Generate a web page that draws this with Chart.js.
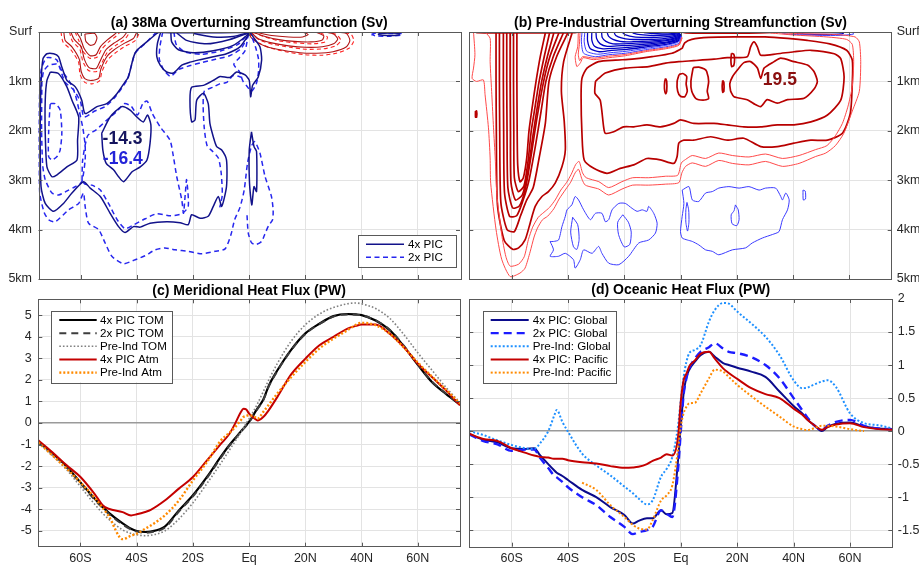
<!DOCTYPE html>
<html><head><meta charset="utf-8">
<script src="https://cdn.jsdelivr.net/npm/chart.js@4.4.1/dist/chart.umd.min.js"></script>
<style>
html,body{margin:0;padding:0;background:#fff;}
#wrap{position:relative;width:919px;height:565px;overflow:hidden;background:#fff;}
canvas{position:absolute;}
</style></head><body>
<div id="wrap">
<canvas id="pa" width="462" height="300" style="left:0;top:0"></canvas>
<canvas id="pb" width="457" height="300" style="left:462px;top:0"></canvas>
<canvas id="pc" width="462" height="282" style="left:0;top:283px"></canvas>
<canvas id="pd" width="457" height="282" style="left:462px;top:283px"></canvas>
</div>
<script>
// ---------- axis ticks ----------
const latTicks = [-60, -40, -20, 0, 20, 40, 60];
const latTickLabels = ['60S', '40S', '20S', 'Eq', '20N', '40N', '60N'];
const depthTicks = [0, 1, 2, 3, 4, 5];
const depthTickLabels = ['Surf', '1km', '2km', '3km', '4km', '5km'];
const fluxTicksC = [-5, -4, -3, -2, -1, 0, 1, 2, 3, 4, 5];
const fluxTicksD = [-1.5, -1, -0.5, 0, 0.5, 1, 1.5, 2];
const fluxTickLabelsD = ['-1.5', '-1', '-0.5', '0', '0.5', '1', '1.5', '2'];

// ---------- (c) meridional heat flux, PW ----------
const latC = [-75,-70,-65,-60,-55,-52,-50,-45,-42,-40,-37,-35,-30,-25,-20,-15,-10,-7,-5,-3,-2,-1,0,1,2,3,5,7,10,15,20,25,30,35,38,40,45,50,55,60,65,70,75];
const tom4x = [-0.88,-1.4,-2.0,-2.75,-3.5,-3.9,-4.15,-4.65,-4.9,-5.0,-5.05,-5.03,-4.8,-4.05,-3.35,-2.5,-1.55,-1.02,-0.71,-0.4,-0.25,-0.1,0.06,0.25,0.48,0.68,1.08,1.73,2.43,3.4,4.15,4.6,4.95,5.05,5.03,5.0,4.75,4.3,3.55,2.7,1.9,1.35,0.85];
const tom2x = [-0.9,-1.42,-2.05,-2.8,-3.55,-3.95,-4.2,-4.7,-4.93,-5.03,-5.08,-5.06,-4.85,-4.1,-3.4,-2.55,-1.6,-1.05,-0.74,-0.42,-0.27,-0.12,0.05,0.24,0.46,0.66,1.05,1.7,2.4,3.38,4.13,4.58,4.93,5.03,5.02,4.99,4.75,4.32,3.58,2.72,1.92,1.37,0.86];
const tomPI = [-0.9,-1.5,-2.15,-2.95,-3.75,-4.2,-4.45,-4.95,-5.12,-5.18,-5.22,-5.2,-5.0,-4.45,-3.7,-2.8,-1.85,-1.25,-0.85,-0.45,-0.25,0.0,0.2,0.42,0.65,0.9,1.45,2.0,2.75,3.8,4.55,5.05,5.35,5.52,5.56,5.52,5.3,4.85,4.1,3.25,2.45,1.65,0.95];
const atm4x = [-0.8,-1.35,-1.95,-2.5,-3.28,-3.82,-3.97,-4.13,-4.28,-4.23,-4.12,-4.02,-3.59,-3.04,-2.5,-1.73,-0.96,-0.5,-0.03,0.5,0.66,0.62,0.43,0.3,0.2,0.12,0.28,0.6,1.2,2.26,2.98,3.6,3.99,4.37,4.5,4.56,4.56,4.14,3.52,2.75,2.13,1.51,0.82];
const atmPI = [-0.9,-1.5,-2.1,-2.75,-3.45,-3.95,-4.3,-5.38,-5.22,-5.13,-4.9,-4.75,-4.28,-3.59,-2.66,-1.81,-0.8,-0.45,-0.19,0.12,0.28,0.33,0.36,0.33,0.28,0.2,0.51,0.85,1.36,2.13,2.83,3.45,3.91,4.3,4.55,4.64,4.53,4.14,3.5,2.8,2.15,1.55,0.9];

// ---------- (d) oceanic heat flux, PW ----------
const latD = [-75,-70,-65,-60,-55,-52,-50,-47,-45,-44,-42,-40,-35,-30,-25,-20,-17,-15,-12,-10,-7,-5,-3,-1,0,1,2,3,5,7,10,12,15,17,20,25,30,35,40,43,45,47,50,52,55,60,65,70,75];
const oGlob4x = [-0.045,-0.13,-0.17,-0.26,-0.27,-0.26,-0.36,-0.5,-0.59,-0.63,-0.68,-0.74,-0.89,-1.0,-1.15,-1.27,-1.4,-1.36,-1.32,-1.32,-1.2,-1.26,-1.24,-0.45,0.08,0.57,0.82,0.93,1.05,1.15,1.2,1.13,1.03,1.0,0.96,0.9,0.82,0.6,0.38,0.27,0.17,0.1,0.0,0.06,0.11,0.13,0.07,0.04,0.03];
const oGlob2x = [-0.05,-0.15,-0.2,-0.3,-0.28,-0.28,-0.4,-0.56,-0.67,-0.7,-0.77,-0.85,-1.0,-1.12,-1.3,-1.45,-1.56,-1.53,-1.5,-1.45,-1.2,-1.25,-1.3,-0.6,0.0,0.55,0.8,0.95,1.1,1.2,1.27,1.33,1.25,1.2,1.18,1.12,1.0,0.8,0.5,0.32,0.2,0.1,0.02,0.08,0.14,0.17,0.08,0.04,0.03];
const oGlobPI = [0.0,-0.06,-0.14,-0.21,-0.26,-0.27,-0.19,0.0,0.22,0.32,0.14,-0.01,-0.34,-0.52,-0.67,-0.84,-0.94,-1.02,-1.11,-1.05,-0.69,-0.57,-0.39,0.07,0.47,0.82,1.05,1.18,1.23,1.3,1.66,1.83,1.94,1.93,1.81,1.63,1.43,1.15,0.77,0.65,0.66,0.7,0.75,0.77,0.67,0.27,0.12,0.09,0.04];
const oPac4x = [-0.04,-0.12,-0.15,-0.26,-0.33,-0.37,-0.39,-0.4,-0.42,-0.42,-0.42,-0.44,-0.47,-0.49,-0.53,-0.555,-0.55,-0.54,-0.5,-0.45,-0.4,-0.35,-0.37,-0.1,0.45,0.77,0.87,0.98,1.07,1.17,1.2,1.1,0.95,0.88,0.79,0.65,0.56,0.5,0.34,0.25,0.17,0.1,0.02,0.06,0.1,0.12,0.06,0.03,0.02];
const oPacPI = [null,null,null,null,null,null,null,null,null,null,null,null,-0.78,-0.89,-1.12,-1.3,-1.42,-1.47,-1.49,-1.35,-1.05,-0.97,-0.82,-0.29,0.07,0.27,0.37,0.42,0.43,0.57,0.8,0.93,0.9,0.82,0.7,0.53,0.37,0.22,0.07,0.03,0.015,0.04,0.08,0.08,0.07,0.03,0.0,null,null];

// ---------- (a) 38Ma overturning streamfunction contours, [lat, depth km] ----------
const a4xContours = [
  [[-32,0],[-32.9,0.03],[-36.5,0.2],[-40,0.37],[-41.2,0.51],[-43,0.91],[-44.2,1.01],[-47.1,1.25],[-50.7,1.45],[-54.2,1.51],[-58.4,1.65],[-59.6,1.38],[-61.9,1.11],[-64.9,0.98],[-66.7,0.71],[-67.9,0.5],[-69.6,0.44],[-72,0.44],[-73.4,0.54],[-74.1,1.04],[-74.4,2.05],[-74.1,3.13],[-72.6,3.47],[-69.6,3.63],[-66.1,3.47],[-63.1,3.26],[-59,3.03],[-56.6,3.16],[-53,3.33],[-49.5,3.67],[-46.5,3.94],[-44.2,4.06],[-41.2,3.94],[-38.8,3.95],[-35.3,3.87],[-29.4,3.84],[-24.6,3.86],[-21.7,3.9],[-20.5,3.7],[-17.5,3.77],[-14.6,3.73],[-12.8,3.53],[-11,3.33],[-9.8,3.53],[-8.1,3.13],[-8.1,2.59],[-9.8,2.39],[-11.6,2.32],[-12.8,2.12],[-14,1.85],[-14.6,1.45],[-16.3,1.24],[-18.7,1.38],[-19.3,1.78],[-20.5,1.82],[-21.1,1.38],[-20.5,1.12],[-16.3,1.08],[-12.8,0.98],[-10.4,0.9],[-6.9,0.92],[-4.5,0.81],[-1.5,0.87],[0,0.98],[0.5,1.31],[1.2,1.08],[3.2,0.91],[4.4,0.57],[3.8,0.3],[1.4,0.1],[0.2,0]],
  [[-31.5,0],[-32.7,0.24],[-32.9,0.5],[-31.7,0.67],[-29.4,0.81],[-27,0.83],[-24,0.67],[-21.1,0.61],[-17.5,0.56],[-12.8,0.5],[-8.1,0.44],[-3.3,0.3],[-0.4,0.07],[0,0]],
  [[-27.9,0],[-27.6,0.2],[-25.2,0.36],[-19.9,0.42],[-12.8,0.38],[-5.7,0.27],[-0.9,0.07],[0,0]],
  [[-25.8,0.02],[-22.3,0.17],[-15.2,0.24],[-6.9,0.15],[-0.4,0.02]],
  [[-19.9,0.03],[-12.8,0.1],[-5.7,0.09],[-0.2,0.01]],
  [[-31,0.01],[-25,0.015],[-15,0.015],[-5,0.01],[0,0]],
  [[-70.8,0.81],[-67.9,0.84],[-64.9,1.11],[-63.1,1.38],[-60.7,1.72],[-61.1,2.19],[-61.3,2.59],[-64.9,2.73],[-68.4,2.89],[-70.2,2.93],[-72,2.73],[-72.6,2.05],[-72.6,1.38],[-72,0.98],[-70.8,0.81]],
  [[-52.5,2.05],[-49.5,1.72],[-45.4,1.51],[-42.4,1.58],[-40,1.72],[-37.7,1.82],[-36.2,1.68],[-35,1.88],[-35.3,2.25],[-36.4,2.59],[-38.8,2.73],[-41.7,2.83],[-44.7,3.03],[-46.5,2.93],[-48.3,2.79],[-50.9,2.66],[-52.1,2.39],[-52.5,2.05]],
  [[0.8,2.02],[1.7,2.32],[2.6,2.42],[2.6,3.23],[1.7,3.13],[0.9,3.5],[0.1,3.06],[0,2.39],[0.8,2.02]],
  [[46,0.03],[50,0.02],[53.5,0.03],[53,0.06],[49,0.07],[46,0.05],[46,0.03]]
];
const a2xContours = [
  [[-33,0],[-36.8,0.22],[-40.5,0.42],[-41.8,0.65],[-43.5,0.97],[-47.5,1.3],[-51,1.5],[-55,1.6],[-58.8,1.72],[-60,1.42],[-62.5,1.17],[-65.5,1.02],[-67.2,0.76],[-68.6,0.56],[-72,0.52],[-74,0.75],[-74.8,1.5],[-74.9,2.5],[-74.6,3.25],[-73,3.65],[-71.4,3.8],[-69,3.84],[-64.3,3.6],[-60.7,3.47],[-59,3.26],[-58.4,3.53],[-57.2,3.87],[-53.6,4.0],[-51.3,4.27],[-48.9,4.54],[-44.8,4.69],[-40.6,4.61],[-37.1,4.53],[-33.5,4.41],[-30,4.37],[-26.4,4.41],[-21.7,4.44],[-16.9,4.49],[-12.2,4.44],[-8.6,4.39],[-6.5,4.1],[-5.2,3.8],[-3.3,3.55],[-1.8,3.2],[-0.6,2.65],[0.85,2.3],[2,2.22],[3.8,2.45],[5.6,2.92],[7.9,3.33],[8.5,3.6],[8.3,3.8],[6.8,3.93],[5.5,4.1],[4.4,4.24],[2.5,4.3],[0.85,4.27],[-0.35,4.07],[-0.8,3.7]],
  [[-0.3,0.03],[-1.5,0.38],[-3.5,0.52],[-5.5,0.66],[-3.5,0.8],[-2.2,1.0],[-0.8,1.1],[0.8,1.2],[2.5,1.05],[3.3,0.8],[3.3,0.55],[2.2,0.3],[0.8,0.08]],
  [[-70.8,1.45],[-69,1.45],[-67.3,1.58],[-66.7,2.05],[-67.3,2.39],[-68.4,2.52],[-70.2,2.59],[-71.4,2.52],[-71.4,2.05],[-71,1.58],[-70.8,1.45]],
  [[-73.8,1.0],[-73.9,2.0],[-73.5,2.7],[-72.6,2.99],[-70.2,3.26],[-67.9,3.3],[-64.3,3.2],[-61.9,3.13],[-59.6,3.03],[-58.4,2.59],[-58.4,2.3],[-59.2,1.95],[-60.5,1.6],[-62,1.25],[-64,1.0],[-66.5,0.8],[-68.5,0.65],[-71.5,0.68],[-73.2,0.8],[-73.8,1.0]],
  [[-59.5,3.0],[-59.3,2.6],[-57.5,2.1],[-54.5,1.98],[-51,1.8],[-47,1.6],[-44.5,1.45],[-42,1.5],[-39.8,1.68],[-37.8,1.44],[-36.3,1.4],[-34.5,1.65],[-31.7,1.92],[-28.2,2.19],[-27,2.52],[-25.8,2.93],[-24,3.4],[-23.4,3.67],[-22.8,3.3],[-22.3,2.99],[-21.7,3.53],[-24,3.68],[-28,3.72],[-33,3.68],[-37,3.78],[-41,3.9],[-44.2,3.98],[-47,3.8],[-50,3.48],[-53,3.2],[-56,3.1],[-58.5,3.08],[-59.5,3.0]],
  [[-30.8,0],[-31.8,0.3],[-32,0.55],[-30.5,0.76],[-28,0.9],[-25.2,0.76],[-21,0.68],[-17,0.62],[-12,0.55],[-7,0.48],[-3,0.34],[-0.6,0.1],[0,0]],
  [[-26.8,0],[-26,0.25],[-23,0.4],[-17,0.45],[-10,0.38],[-4,0.25],[-0.6,0.05]],
  [[-2.5,0.92],[-5.7,0.88],[-8,1.02],[-10.5,1.05],[-13,1.12],[-16,1.2],[-16.4,1.5],[-16,1.95],[-15,2.3],[-13,2.42],[-11,2.55],[-10,2.85],[-9.6,3.3],[-10.5,3.55]],
  [[43.5,0.05],[45,0.02],[50,0.03],[54,0.03],[54.5,0.06],[50,0.085],[45,0.08],[43.5,0.05]]
];
const a4xWarm = [
  [[-66,0],[-65.5,0.17],[-63.1,0.3],[-60.5,0.55],[-59.8,0.8],[-58.4,0.95],[-56,0.98],[-53.6,0.94],[-52.8,0.75],[-50.7,0.5],[-48.3,0.37],[-44.8,0.24],[-41.2,0.13],[-40,0]],
  [[-63.5,0],[-62.3,0.15],[-59.8,0.3],[-58.7,0.55],[-57,0.72],[-54.5,0.74],[-53,0.58],[-51,0.36],[-48,0.22],[-45,0.11],[-43.5,0]],
  [[-61.5,0],[-60,0.14],[-58.8,0.33],[-56.6,0.48],[-54.5,0.46],[-53,0.3],[-50.5,0.16],[-48,0.05],[-47,0]],
  [[-58.5,0.04],[-58.2,0.18],[-56.6,0.27],[-55,0.24],[-54.2,0.12],[-55,0.03],[-58.5,0.04]],
  [[0.2,0],[0.5,0.1],[2.6,0.2],[6.2,0.3],[12,0.37],[18,0.42],[24,0.43],[29.8,0.4],[34.6,0.3],[35.8,0.17],[34.6,0.03],[30,0]],
  [[0.5,0],[3,0.13],[8,0.22],[14,0.28],[20,0.31],[26,0.3],[30,0.24],[31.5,0.14],[30,0.04],[27,0]],
  [[1,0],[5,0.08],[10,0.15],[16,0.19],[22,0.2],[26,0.16],[26.5,0.08],[24,0.01]],
  [[2,0],[8,0.07],[14,0.1],[19,0.1],[21,0.05],[19,0]]
];
const a2xWarm = [
  [[-67,0],[-66.3,0.2],[-63.5,0.36],[-60.8,0.6],[-60.2,0.86],[-58.5,1.02],[-56,1.05],[-53.3,0.99],[-52.4,0.8],[-50.3,0.56],[-47.8,0.43],[-44.2,0.29],[-40.5,0.17],[-39,0]],
  [[-64,0],[-63,0.18],[-60.3,0.35],[-59.2,0.6],[-57.2,0.78],[-54.3,0.8],[-52.5,0.63],[-50.5,0.41],[-47.5,0.27],[-44.3,0.15],[-42.5,0]],
  [[-62,0],[-60.6,0.18],[-59.3,0.38],[-56.8,0.53],[-54.2,0.51],[-52.5,0.35],[-50,0.2],[-47.3,0.08],[-46,0]],
  [[0.3,0],[1,0.12],[4,0.24],[8,0.33],[14,0.41],[20,0.46],[26,0.47],[31,0.43],[35.5,0.33],[37.2,0.18],[36.3,0.05],[33,0]],
  [[0.7,0],[3.5,0.16],[8.5,0.25],[14.5,0.31],[20.5,0.35],[26.5,0.34],[30.8,0.28],[32.6,0.17],[31,0.05],[28,0]],
  [[1.3,0],[5.5,0.1],[10.5,0.18],[16.5,0.22],[22.5,0.24],[27,0.2],[27.8,0.1],[25,0.01]]
];
const extremaA = [
  {lat: -45.1, depth: 2.17, text: '-14.3', color: '#14145e'},
  {lat: -45.0, depth: 2.58, text: '-16.4', color: '#2323d8'}
];

// ---------- (b) pre-industrial overturning streamfunction contours ----------
const piStrongPos = [
  [[-58.1,0],[-58.1,1.0],[-58,2.0],[-57.8,2.7],[-57,3.03],[-55.8,2.95],[-54.6,2.55],[-53.8,2.0],[-52.6,1.5],[-51.3,1.0],[-49.8,0.5],[-48,0.02]],
  [[-59.3,0],[-59.3,1.0],[-59.2,2.0],[-59,2.95],[-57.6,3.23],[-55.6,3.12],[-54.1,2.6],[-53,2.0],[-51.6,1.5],[-50.2,1.0],[-48.4,0.5],[-46.5,0.02]],
  [[-60.5,0],[-60.5,1.0],[-60.4,2.0],[-60.2,3.05],[-58.6,3.4],[-56.2,3.3],[-54.3,2.85],[-52.4,2.1],[-50.8,1.5],[-49.3,1.0],[-47.3,0.5],[-45,0.02]],
  [[-61.7,0],[-61.7,1.0],[-61.6,2.0],[-61.3,3.15],[-59.6,3.56],[-57.2,3.52],[-55,3.15],[-52.9,2.45],[-51,1.75],[-48.6,1.0],[-46.4,0.5],[-43.2,0.02]],
  [[-62.9,0],[-62.9,1.0],[-62.8,2.0],[-62.5,3.25],[-60.7,3.73],[-58.2,3.72],[-56,3.42],[-53.8,3.0],[-51.5,2.3],[-49.5,1.6],[-47.8,1.0],[-45.2,0.5],[-41.6,0.02]],
  [[-64.3,0],[-64.3,1.0],[-64.2,2.0],[-63.8,3.45],[-61.6,4.0],[-59,4.04],[-56.8,3.72],[-54.6,3.4],[-52.3,3.15],[-50.2,2.55],[-48,1.85],[-46.7,1.0],[-44,0.5],[-40,0.02]],
  [[-65.5,0],[-65.5,1.0],[-65.4,2.0],[-65,3.5],[-62.6,4.22],[-59.6,4.4],[-57.5,4.37],[-55.2,4.21],[-53.4,3.87],[-51.6,3.53],[-49.2,3.33],[-46.9,3.23],[-44.5,3.06],[-42.1,2.73],[-40.9,2.39],[-41.3,1.8],[-42.3,1.2],[-41.5,0.6],[-38.5,0.02]],
  [[0.6,0.33],[-3,0.43],[-10.1,0.5],[-17.2,0.55],[-23.1,0.57],[-29.1,0.6],[-33.2,0.73],[-35,0.94],[-35.3,1.3],[-35,2.05],[-34.2,2.59],[-30.8,2.76],[-26.1,2.86],[-21.4,2.76],[-16.6,2.69],[-11.9,2.56],[-7.1,2.59],[-2.4,2.66],[-1.2,2.52],[-0.6,2.25],[1.2,2.19],[4.7,2.19],[10.7,2.12],[16.6,2.19],[22.5,2.15],[28.5,2.32],[34.4,2.32],[40.3,2.25],[46.3,2.19],[52.2,2.19],[57.5,2.05],[60.3,1.65],[61,1.04],[61,0.57],[59,0.37],[53,0.24],[45,0.17],[38,0.13],[30,0.1],[20,0.1],[10,0.11],[4,0.15],[1.5,0.22],[0.6,0.33]],
  [[-30.2,1.0],[-30.4,1.24],[-28.5,1.38],[-27.3,1.92],[-26.7,2.05],[-23.7,2.02],[-20.2,1.92],[-16.6,1.92],[-11.9,1.88],[-7.1,1.92],[-2.4,1.85],[0,1.78],[4.7,1.85],[11.9,1.85],[16.6,1.88],[22.5,1.92],[28.5,1.92],[34.4,1.88],[40.3,1.88],[46.3,1.82],[52.2,1.68],[56.9,1.38],[58.1,0.91],[56.9,0.54],[54.6,0.44],[46.3,0.37],[40.3,0.4],[34.4,0.44],[28.5,0.47],[27.3,0.3],[26.1,0.2],[24.9,0.3],[23.7,0.5],[16.6,0.52],[11.9,0.55],[4.7,0.58],[-0.6,0.6],[-5.3,0.63],[-11.3,0.7],[-19.6,0.73],[-26.7,0.83],[-29.1,0.94],[-30.2,1.0]],
  [[17.8,1.2],[19,1.31],[23.7,1.37],[26,1.45],[28.5,1.51],[30.8,1.37],[34.4,1.44],[38,1.37],[43.9,1.34],[47.5,1.15],[48.6,1.0],[47.4,0.8],[45.1,0.67],[40.3,0.6],[35.6,0.53],[33.2,0.6],[29.7,0.73],[28.5,0.94],[27.3,0.73],[24.9,0.6],[22.5,0.62],[20.5,0.75],[18.5,0.9],[17.5,1.05],[17.8,1.2]],
  [[-5.3,0.94],[-4.9,1.0],[-4.9,1.2],[-5.3,1.25],[-5.7,1.15],[-5.6,1.0],[-5.3,0.94]],
  [[-0.5,0.86],[0.8,0.84],[2.2,0.9],[2.0,1.05],[2.4,1.2],[1.5,1.31],[0,1.3],[-1.0,1.2],[-1.2,1.0],[-0.5,0.86]],
  [[4.5,0.72],[6.5,0.71],[8.5,0.75],[9.3,0.8],[10,1.0],[9.5,1.2],[10,1.35],[8,1.38],[5.5,1.35],[4,1.2],[3.7,1.0],[4.5,0.72]],
  [[15,0.98],[15.4,1.02],[15.4,1.2],[15,1.22],[14.8,1.1],[15,0.98]],
  [[18.1,0.43],[18.9,0.45],[19.2,0.55],[18.9,0.68],[18.2,0.7],[17.9,0.57],[18.1,0.43]],
  [[-73,0],[-72,0.015],[-65,0.02],[-55,0.02],[-45,0.02],[-38,0.015],[-36,0]],
  [[0,0],[2,0.02],[10,0.025],[20,0.025],[28,0.02],[33,0.01],[35,0]],
  [[-72.8,1.6],[-72.4,1.6],[-72.4,1.72],[-72.8,1.72],[-72.8,1.6]]
];
const piWeakPos = [
  [[-73.5,0],[-73,0.46],[-73.5,0.73],[-74,0.94],[-72.4,1.0],[-70,0.97],[-69.4,1.27],[-68.2,1.94],[-67.6,2.55],[-67.4,3.06],[-65.5,4.0],[-63.5,4.6],[-60.5,4.95],[-57,4.88],[-55.2,4.78],[-53.4,4.45],[-52,4.15],[-50.8,3.97],[-49,3.8],[-47.2,3.73],[-45,3.58],[-43.1,3.38],[-40.7,3.18],[-39,3.04],[-37.4,2.85],[-36.2,2.78],[-35,2.98],[-33.8,3.1],[-29,3.18],[-25.5,3.3],[-20.8,3.18],[-17,3.1],[-11.3,3.1],[-5.3,3.08],[-0.6,3.05],[0.5,2.85],[1.8,2.72],[4.2,2.65],[8.9,2.72],[13.6,2.6],[18.4,2.66],[24.3,2.69],[30.2,2.62],[36.2,2.72],[42.1,2.66],[48,2.52],[51.6,2.45],[55,2.3],[58,2.05],[61,1.6],[63.5,1.2],[64,0.6],[63.5,0.2],[62,0.1],[55,0.05],[40,0.03],[32,0]],
  [[-69.4,0],[-67.6,0.13],[-67.6,0.6],[-67,1.27],[-66.4,1.94],[-65.8,2.55],[-65.2,3.3],[-63.5,4.1],[-62,4.55],[-60.5,4.74],[-57.5,4.7],[-55.5,4.55],[-54,4.2],[-52.5,3.95],[-50.5,3.75],[-48.5,3.65],[-46.5,3.55],[-44.5,3.4],[-42.5,3.2],[-40.5,3.05],[-38.8,2.88],[-37.2,2.68],[-36,2.62],[-34.8,2.85],[-33.5,2.95],[-29,3.03],[-25.5,3.15],[-20.8,3.03],[-17,2.95],[-11.3,2.95],[-5.3,2.92],[-1,2.9],[0.3,2.65],[1.8,2.58],[4.2,2.5],[8.9,2.56],[13.6,2.45],[18.4,2.5],[24.3,2.53],[30.2,2.47],[36.2,2.56],[42.1,2.5],[48,2.38],[52,2.3],[55,2.1],[57.5,1.85],[59.5,1.5],[61,1.1],[61.5,0.6],[61,0.25],[59,0.15],[52,0.1],[40,0.06],[32,0.02]],
  [[-36.3,0.02],[-36.5,0.3],[-37.4,0.5],[-36.8,0.7],[-35.5,0.62],[-34.6,0.52],[-31,0.56],[-25.5,0.52],[-19.5,0.48],[-12.5,0.4],[-5.3,0.34],[-0.6,0.27],[0.6,0.12]],
  [[-35.7,0.02],[-35.9,0.25],[-36.3,0.45],[-35.8,0.58],[-34.8,0.5],[-30.6,0.53],[-25.5,0.49],[-19.6,0.455],[-12.5,0.38],[-5.3,0.32],[-0.6,0.25],[0.5,0.1]]
];
const piWeakNeg = [
  [[-35,0.02],[-35.2,0.2],[-34.4,0.43],[-30.2,0.5],[-25.5,0.46],[-19.6,0.43],[-12.5,0.36],[-5.3,0.3],[-0.6,0.23],[0.4,0.08]],
  [[-34,0.02],[-34.2,0.2],[-33.3,0.39],[-29.5,0.45],[-25,0.42],[-19.3,0.39],[-12.3,0.33],[-5.2,0.27],[-0.7,0.2],[0.3,0.07]],
  [[-46.3,4.24],[-45.1,4.41],[-46.3,4.54],[-43.3,4.54],[-40.9,4.48],[-38,4.61],[-37.4,4.78],[-35.6,4.61],[-34.4,4.41],[-31.4,4.48],[-29.1,4.34],[-27.9,4.48],[-25.5,4.68],[-21.9,4.71],[-18.4,4.54],[-14.8,4.27],[-11.3,4.21],[-8.9,4.07],[-8.3,3.87],[-9.5,3.67],[-11.3,3.53],[-11.9,3.63],[-13.6,3.6],[-15.4,3.63],[-17.2,3.57],[-19.6,3.47],[-21.9,3.47],[-24.3,3.6],[-25.5,3.8],[-26.7,3.84],[-27.9,3.67],[-30.2,3.67],[-32,3.8],[-34.4,3.6],[-36.2,3.4],[-37.4,3.33],[-38.6,3.5],[-40.3,3.6],[-40.9,3.73],[-42.1,3.94],[-43.3,4.21],[-45.1,4.24],[-46.3,4.24]],
  [[-38.3,3.75],[-36.5,3.9],[-36,4.2],[-36.8,4.4],[-38,4.35],[-39,4.05],[-38.3,3.75]],
  [[-20.5,3.7],[-18.5,3.85],[-17.5,4.05],[-18,4.3],[-20,4.35],[-22,4.1],[-22.3,3.85],[-20.5,3.7]],
  [[0.6,3.2],[3,3.13],[4.2,3.4],[6.5,3.43],[8.9,3.26],[11.3,3.23],[13.6,3.16],[17.2,3.13],[20.8,3.16],[24.3,3.13],[27.9,3.2],[30.2,3.16],[33.8,3.16],[35.6,3.33],[36.2,3.4],[37.4,3.26],[38.6,3.4],[38,3.6],[36.2,3.8],[35,4.04],[32.6,4.1],[29.1,4.17],[25.5,4.27],[23.1,4.37],[18.4,4.41],[13.6,4.51],[11.3,4.44],[8.9,4.41],[6.5,4.31],[4.2,4.24],[2.4,4.21],[0.6,4.17],[0,4.04],[0.6,3.73],[1.2,3.47],[0.6,3.2]],
  [[2.3,3.45],[2.9,3.6],[3,3.85],[2.5,4.03],[1.9,3.85],[1.9,3.6],[2.3,3.45]],
  [[19.5,3.5],[20.5,3.6],[20.8,3.8],[20,3.92],[18.3,3.88],[18,3.7],[19,3.62],[19.5,3.5]],
  [[43.5,3.2],[44.3,3.22],[44.4,3.38],[43.6,3.4],[43.5,3.2]],
  [[35.6,0.01],[37.5,0.04],[45,0.06],[52,0.07],[58,0.065],[61.5,0.04],[61,0.01]]
];
const piStrongNeg = [
  [[-33,0.02],[-33,0.18],[-32,0.34],[-28.8,0.4],[-24.5,0.37],[-19,0.35],[-12,0.3],[-5,0.25],[-0.8,0.18],[0.2,0.06]],
  [[-31.5,0.02],[-31.5,0.16],[-30.5,0.29],[-27.5,0.34],[-23.5,0.33],[-18.5,0.31],[-11.5,0.27],[-4.8,0.22],[-0.9,0.16],[0.1,0.05]],
  [[-30,0.02],[-29.8,0.13],[-28.5,0.24],[-26,0.29],[-22.5,0.28],[-18,0.27],[-11,0.24],[-4.6,0.2],[-1,0.14],[0,0.05]],
  [[-28,0.02],[-27.8,0.11],[-26.5,0.19],[-24,0.24],[-21,0.24],[-17,0.23],[-10.5,0.21],[-4.4,0.17],[-1,0.12],[0,0.04]],
  [[-26,0.02],[-25.5,0.09],[-24,0.15],[-21.5,0.19],[-19,0.2],[-15.5,0.19],[-10,0.18],[-4.2,0.15],[-1.1,0.1],[-0.1,0.04]],
  [[-23.5,0.02],[-23,0.07],[-21,0.12],[-18,0.15],[-14,0.15],[-9.5,0.15],[-4,0.12],[-1.2,0.08],[-0.2,0.03]],
  [[-20.5,0.02],[-19.5,0.06],[-16.5,0.1],[-12.5,0.11],[-8.5,0.11],[-3.8,0.09],[-1.2,0.06],[-0.3,0.02]],
  [[-17,0.02],[-15,0.05],[-11,0.07],[-7.5,0.07],[-3.5,0.06],[-1.2,0.04],[-0.4,0.01]],
  [[-13,0.01],[-10,0.03],[-6.5,0.04],[-3,0.035],[-1,0.02]],
  [[40,0.02],[45,0.045],[52,0.05],[57,0.04],[58,0.02]]
];
const extremaB = [
  {lat: 35.3, depth: 0.98, text: '19.5', color: '#8a0f0f'}
];

// ---------- shared look ----------
const FONT = "'Liberation Sans', Arial, Helvetica, sans-serif";
Chart.defaults.font.family = FONT;
Chart.defaults.font.size = 12.5;
Chart.defaults.color = '#262626';
const GRID = '#e3e3e3';

function fixTicks(values) {
  return function (scale) { scale.ticks = values.map(v => ({ value: v })); };
}
function labelFrom(values, labels) {
  return function (v) { const i = values.indexOf(v); return i < 0 ? '' : labels[i]; };
}

// draws the title, the axes box with inward tick marks, peak labels and legend
const panelDecor = {
  id: 'panelDecor',
  afterDatasetsDraw(chart, args, o) {
    const { ctx, chartArea: a, scales } = chart;
    ctx.save();
    ctx.strokeStyle = '#595959';
    ctx.lineWidth = 1;
    ctx.beginPath();
    scales.x.ticks.forEach(t => {
      const px = Math.round(scales.x.getPixelForValue(t.value)) + 0.5;
      ctx.moveTo(px, a.bottom); ctx.lineTo(px, a.bottom - 4);
      ctx.moveTo(px, a.top); ctx.lineTo(px, a.top + 4);
    });
    scales.y.ticks.forEach(t => {
      const py = Math.round(scales.y.getPixelForValue(t.value)) + 0.5;
      ctx.moveTo(a.left, py); ctx.lineTo(a.left + 4, py);
      ctx.moveTo(a.right, py); ctx.lineTo(a.right - 4, py);
    });
    ctx.stroke();
    ctx.strokeRect(Math.round(a.left) + 0.5, Math.round(a.top) + 0.5,
      Math.round(a.right - a.left), Math.round(a.bottom - a.top));
    (o.peaks || []).forEach(p => {
      ctx.font = 'bold 17.5px ' + FONT;
      ctx.fillStyle = p.color;
      ctx.textAlign = 'center';
      ctx.textBaseline = 'middle';
      ctx.fillText(p.text, scales.x.getPixelForValue(p.lat), scales.y.getPixelForValue(p.depth));
    });
    const L = o.legend;
    if (L) {
      const x0 = L.anchor === 'br' ? a.right - L.dx - L.w : a.left + L.dx;
      const y0 = L.anchor === 'br' ? a.bottom - L.dy - L.h : a.top + L.dy;
      ctx.fillStyle = '#fff';
      ctx.fillRect(x0, y0, L.w, L.h);
      ctx.strokeStyle = '#595959'; ctx.lineWidth = 1;
      ctx.strokeRect(Math.round(x0) + 0.5, Math.round(y0) + 0.5, Math.round(L.w), Math.round(L.h));
      const items = chart.data.datasets.filter(d => d.label);
      items.forEach((d, i) => {
        const y = y0 + L.first + i * L.step;
        ctx.strokeStyle = d.borderColor;
        ctx.lineWidth = d.borderWidth;
        ctx.setLineDash(d.borderDash || []);
        ctx.beginPath(); ctx.moveTo(x0 + L.lx0, y); ctx.lineTo(x0 + L.lx1, y); ctx.stroke();
        ctx.setLineDash([]);
        ctx.fillStyle = '#000';
        ctx.font = '11.6px ' + FONT;
        ctx.textAlign = 'left';
        ctx.textBaseline = 'middle';
        ctx.fillText(d.label, x0 + L.tx, y + 0.5);
      });
    }
    ctx.font = 'bold 14px ' + FONT;
    ctx.fillStyle = '#000';
    ctx.textAlign = 'center';
    ctx.textBaseline = 'alphabetic';
    ctx.fillText(o.title, (a.left + a.right) / 2, a.top - 4.7);
    ctx.restore();
  }
};

function contourSets(groups, style, label) {
  return groups.map((c, i) => ({
    label: i === 0 && label ? label : undefined,
    data: c.map(p => ({ x: p[0], y: p[1] })),
    showLine: true, pointRadius: 0, pointHoverRadius: 0,
    borderColor: style.color, borderWidth: style.width,
    borderDash: style.dash || [], tension: 0.22, fill: false
  }));
}

function seriesSet(lat, vals, label, style, order) {
  return {
    label, order,
    data: lat.map((x, i) => ({ x, y: vals[i] })),
    showLine: true, pointRadius: 0, pointHoverRadius: 0,
    borderColor: style.color, borderWidth: style.width, borderDash: style.dash || [],
    cubicInterpolationMode: 'monotone', spanGaps: false, fill: false
  };
}

function baseOptions(geom, yCfg, xLabels, decor) {
  return {
    responsive: false, animation: false, devicePixelRatio: 1,
    events: [],
    layout: { padding: geom.pad },
    plugins: { legend: { display: false }, tooltip: { enabled: false }, panelDecor: decor },
    scales: {
      x: {
        type: 'linear', min: -75, max: 75,
        afterBuildTicks: fixTicks(latTicks),
        afterFit: s => { s.height = geom.xh; },
        ticks: { display: xLabels, callback: labelFrom(latTicks, latTickLabels), padding: 4, maxRotation: 0, autoSkip: false },
        grid: { color: GRID, drawTicks: false, lineWidth: 1 },
        border: { display: false }
      },
      y: Object.assign({
        type: 'linear',
        afterFit: s => { s.width = geom.yw; },
        grid: { color: GRID, drawTicks: false, lineWidth: 1 },
        border: { display: false }
      }, yCfg)
    }
  };
}

// ---------- (a) ----------
new Chart(document.getElementById('pa'), {
  type: 'scatter',
  data: { datasets: [].concat(
    contourSets(a4xContours, { color: '#12128a', width: 1.5 }, '4x PIC'),
    contourSets(a2xContours, { color: '#2626ee', width: 1.5, dash: [5, 3.5] }, '2x PIC'),
    contourSets(a4xWarm, { color: '#b01414', width: 1.1 }),
    contourSets(a2xWarm, { color: '#ff2222', width: 1.1, dash: [4, 3] })
  ) },
  options: baseOptions(
    { pad: { top: 32, right: 2, bottom: 0, left: 0 }, xh: 21, yw: 38.5 },
    { position: 'left', reverse: true, min: 0, max: 5, afterBuildTicks: fixTicks(depthTicks),
      ticks: { callback: labelFrom(depthTicks, depthTickLabels), padding: 6.5 } },
    false,
    { title: '(a) 38Ma Overturning Streamfunction (Sv)', peaks: extremaA,
      legend: { anchor: 'br', dx: 3.3, dy: 12.3, w: 98.4, h: 31.7, first: 9.3, step: 13, lx0: 7.7, lx1: 45.7, tx: 49.7 } }
  ),
  plugins: [panelDecor]
});

// ---------- (b) ----------
new Chart(document.getElementById('pb'), {
  type: 'scatter',
  data: { datasets: [].concat(
    contourSets(piWeakPos, { color: '#ff4a4a', width: 1 }),
    contourSets(piWeakNeg, { color: '#3a3aff', width: 1 }),
    contourSets(piStrongNeg, { color: '#0000c4', width: 1.3 }),
    contourSets(piStrongPos, { color: '#b80000', width: 1.7 })
  ) },
  options: baseOptions(
    { pad: { top: 32, right: 0, bottom: 0, left: 7.3 }, xh: 21, yw: 27.3 },
    { position: 'right', reverse: true, min: 0, max: 5, afterBuildTicks: fixTicks(depthTicks),
      ticks: { callback: labelFrom(depthTicks, depthTickLabels), padding: 5 } },
    false,
    { title: '(b) Pre-Industrial Overturning Streamfunction (Sv)', peaks: extremaB }
  ),
  plugins: [panelDecor]
});

// ---------- (c) ----------
const zeroGrid = {
  color: c => (c.tick && c.tick.value === 0) ? '#9a9a9a' : GRID,
  lineWidth: c => (c.tick && c.tick.value === 0) ? 1.6 : 1,
  drawTicks: false
};
const optsC = baseOptions(
  { pad: { top: 16.3, right: 2, bottom: 0, left: 0 }, xh: 18.3, yw: 38.3 },
  { position: 'left', min: -5.73, max: 5.73, afterBuildTicks: fixTicks(fluxTicksC),
    ticks: { callback: v => String(v), padding: 6.5 } },
  true,
  { title: '(c) Meridional Heat Flux (PW)',
    legend: { anchor: 'tl', dx: 12.4, dy: 11.4, w: 121, h: 71.6, first: 9.3, step: 13.15, lx0: 8.6, lx1: 46, tx: 49.3 } }
);
optsC.scales.y.grid = zeroGrid;
new Chart(document.getElementById('pc'), {
  type: 'scatter',
  data: { datasets: [
    seriesSet(latC, tom4x, '4x PIC TOM', { color: '#000000', width: 2.2 }, 5),
    seriesSet(latC, tom2x, '2x PIC TOM', { color: '#3d3d3d', width: 2, dash: [7, 5] }, 4),
    seriesSet(latC, tomPI, 'Pre-Ind TOM', { color: '#808080', width: 1.6, dash: [1.6, 2] }, 3),
    seriesSet(latC, atm4x, '4x PIC Atm', { color: '#c40000', width: 2 }, 2),
    seriesSet(latC, atmPI, 'Pre-Ind Atm', { color: '#ff8a00', width: 2.4, dash: [2, 2] }, 1)
  ] },
  options: optsC,
  plugins: [panelDecor]
});

// ---------- (d) ----------
const optsD = baseOptions(
  { pad: { top: 16, right: 0, bottom: 0, left: 7.3 }, xh: 18.3, yw: 26.7 },
  { position: 'right', min: -1.75, max: 2, afterBuildTicks: fixTicks(fluxTicksD),
    ticks: { callback: labelFrom(fluxTicksD, fluxTickLabelsD), padding: 5.5 } },
  true,
  { title: '(d) Oceanic Heat Flux (PW)',
    legend: { anchor: 'tl', dx: 13.4, dy: 11.7, w: 133.3, h: 71.6, first: 9.3, step: 13.15, lx0: 8, lx1: 46, tx: 50 } }
);
optsD.scales.y.grid = zeroGrid;
new Chart(document.getElementById('pd'), {
  type: 'scatter',
  data: { datasets: [
    seriesSet(latD, oGlob4x, '4x PIC: Global', { color: '#0b0b8c', width: 2 }, 5),
    seriesSet(latD, oGlob2x, '2x PIC: Global', { color: '#1c1cff', width: 2.4, dash: [8, 5] }, 4),
    seriesSet(latD, oGlobPI, 'Pre-Ind: Global', { color: '#1e90ff', width: 2, dash: [2, 2] }, 3),
    seriesSet(latD, oPac4x, '4x PIC: Pacific', { color: '#c40000', width: 2 }, 2),
    seriesSet(latD, oPacPI, 'Pre-Ind: Pacific', { color: '#ff8a00', width: 2, dash: [2, 2] }, 1)
  ] },
  options: optsD,
  plugins: [panelDecor]
});
</script>
</body></html>
